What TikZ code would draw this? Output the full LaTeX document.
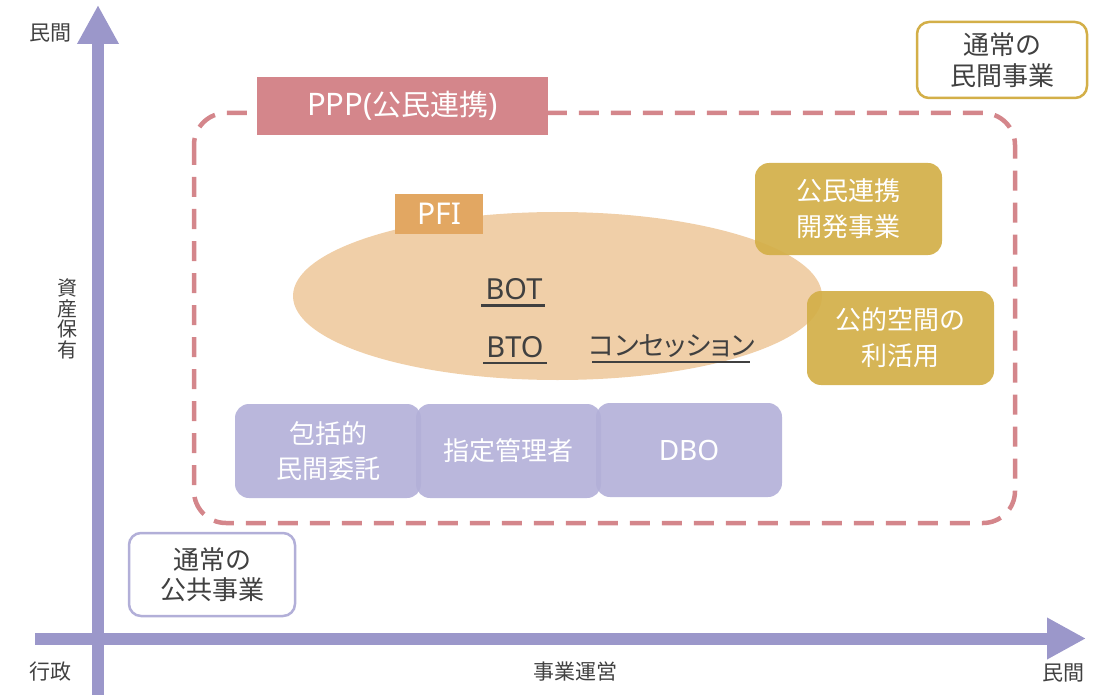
\documentclass[tikz,border=0pt]{standalone}
\usepackage{fontspec}
\setmainfont{Noto Sans CJK JP}
\newfontfamily\lat{Noto Sans}
\newfontfamily\kanap[RawFeature=+palt]{Noto Sans CJK JP}
\usetikzlibrary{arrows.meta,shapes.geometric}
\definecolor{axisc}{HTML}{9B97CA}
\definecolor{pppc}{HTML}{D4868B}
\definecolor{goldc}{HTML}{D3AF48}
\definecolor{pfic}{HTML}{E2A762}
\definecolor{ellc}{HTML}{F0CFA8}
\definecolor{purc}{HTML}{B2AFD8}
\definecolor{txtc}{HTML}{404040}
\tikzset{
  axis/.style={draw=axisc,line width=12pt,-{Triangle[length=39pt,width=39pt]}},
  axlabel/.style={text=txtc,font=\fontsize{21}{24}\selectfont,inner sep=0pt},
  whitebox/.style={fill=white,rounded corners=12pt,line width=2.5pt,text=txtc,align=center,inner sep=0pt,font=\fontsize{26}{31}\selectfont},
  goldbox/.style={fill=goldc,fill opacity=0.92,text opacity=1,rounded corners=14pt,text=white,align=center,inner sep=0pt,minimum width=187pt,font=\fontsize{26}{36}\selectfont},
  purbox/.style={fill=purc,fill opacity=0.9,text opacity=1,rounded corners=14pt,text=white,align=center,inner sep=0pt,minimum height=94pt,font=\fontsize{26}{35}\selectfont},
  ultext/.style={text=txtc,inner sep=0pt,font=\lat\fontsize{29}{34}\selectfont},
  uline/.style={draw=txtc,line width=2.5pt},
}
\begin{document}
\begin{tikzpicture}[x=1pt,y=-1pt]
\useasboundingbox (0,0) rectangle (1100,695);
% PPP dashed frame
\draw[pppc,line width=4.5pt,dash pattern=on 20pt off 12pt,rounded corners=32pt] (194,113) rectangle (1015,523);
\node[fill=pppc,minimum width=291pt,minimum height=58pt,inner sep=0pt,text=white,font=\fontsize{29}{32}\selectfont] (ppp) at (402.5,106) {{\lat\fontsize{31}{32}\selectfont PPP(}公民連携{\lat\fontsize{31}{32}\selectfont )}};
% normal private business
\node[whitebox,draw=goldc,minimum width=170pt,minimum height=76pt] (priv) at (1002,60) {通常の\\民間事業};
% PFI ellipse
\node[ellipse,fill=ellc,minimum width=529pt,minimum height=168pt,inner sep=0pt] (pfiell) at (557.5,296) {};
\node[fill=pfic,minimum width=88pt,minimum height=39pt,inner sep=0pt,text=white,font=\lat\fontsize{30}{34}\selectfont] (pfi) at (439,214) {PFI};
% gold boxes
\node[goldbox,minimum height=92pt] (kaihatsu) at (848.5,209) {公民連携\\開発事業};
\node[goldbox,minimum height=94pt] (kuukan) at (900.5,338) {公的空間の\\利活用};
% underlined items
\node[ultext] (bot) at (514,289) {BOT};
\node[ultext] (bto) at (515,347) {BTO};
\node[ultext,font=\kanap\fontsize{27}{30}\selectfont] (conc) at (672,346) {コンセッション};
\coordinate (botl) at (481,305.5); \coordinate (botr) at (545,305.5);
\coordinate (btol) at (483,363); \coordinate (btor) at (547,363);
\coordinate (concl) at (592,362); \coordinate (concr) at (750,362);
\draw[uline] (botl) -- (botr);
\draw[uline] (btol) -- (btor);
\draw[uline] (concl) -- (concr);
% purple boxes
\node[purbox,minimum width=186pt] (houkatsu) at (328,451) {包括的\\民間委託};
\node[purbox,minimum width=185pt] (shitei) at (508.5,451) {指定管理者};
\node[purbox,minimum width=186pt,font=\lat\fontsize{28}{30}\selectfont] (dbo) at (689,450) {DBO};
% normal public business
\node[whitebox,draw=purc,minimum width=166pt,minimum height=83pt,font=\fontsize{26}{30}\selectfont] (pub) at (212,574.5) {通常の\\公共事業};
% axes
\coordinate (ybot) at (98,695);
\coordinate (ytop) at (98,5);
\coordinate (xleft) at (35,638.5);
\coordinate (xright) at (1086,638.5);
\draw[axis] (ybot) -- (ytop);
\draw[axis] (xleft) -- (xright);
\node[axlabel] (ymax) at (50,33) {民間};
\node[axlabel,align=center,font=\fontsize{20}{20.5}\selectfont] (ylab) at (67,319) {資\\産\\保\\有};
\node[axlabel] (xmin) at (50,672) {行政};
\node[axlabel] (xlab) at (575,672) {事業運営};
\node[axlabel] (xmax) at (1063,673) {民間};
\end{tikzpicture}
\end{document}
